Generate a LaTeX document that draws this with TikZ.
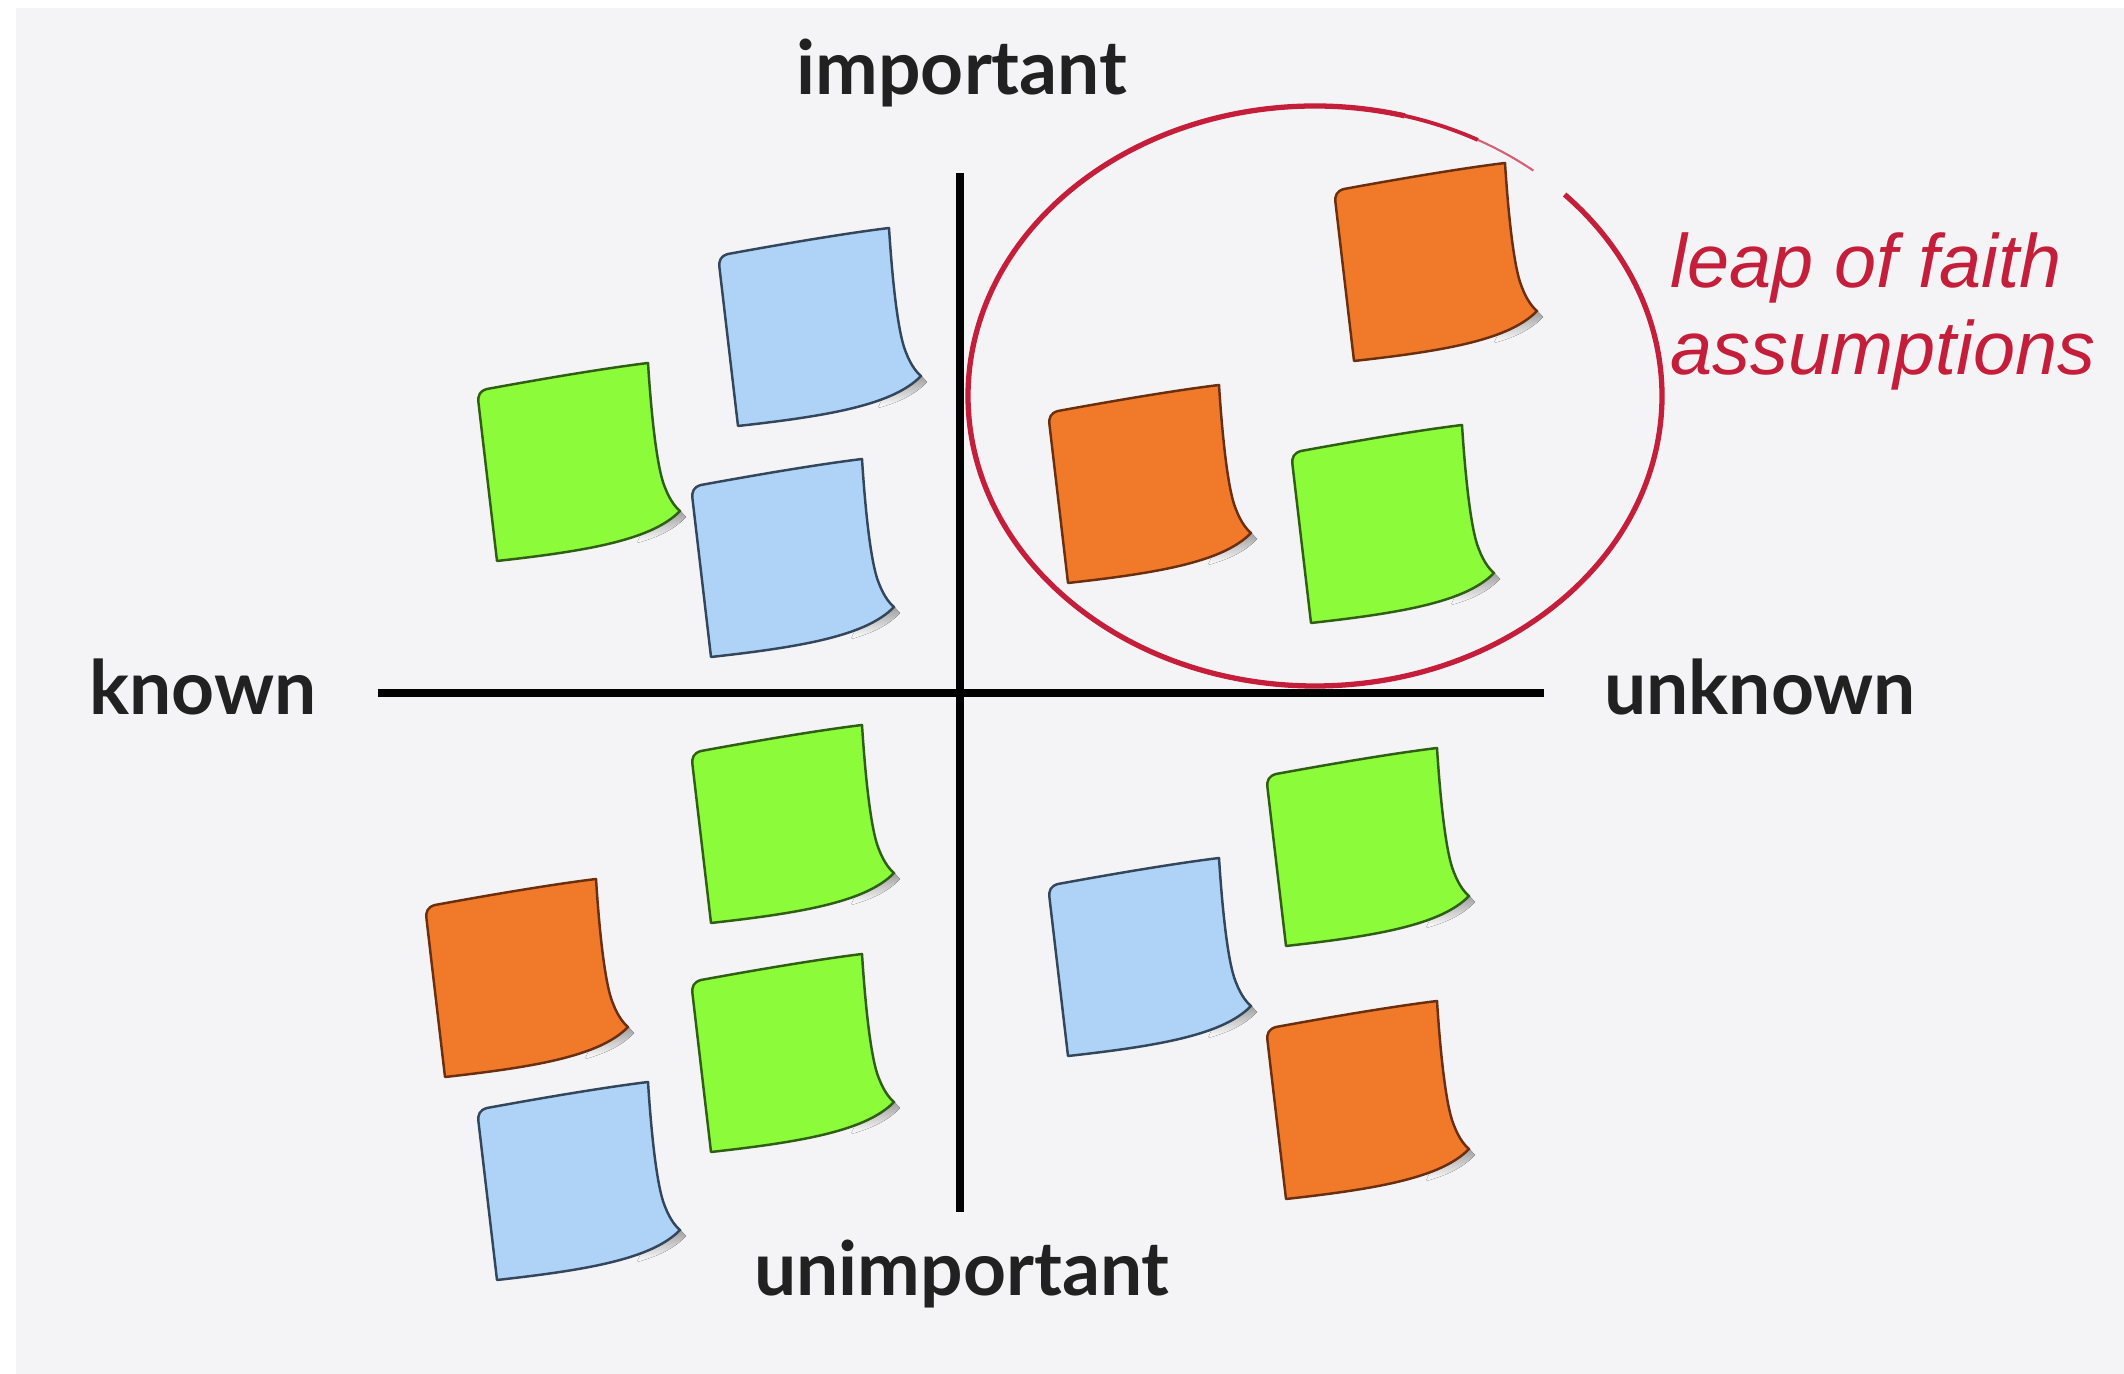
\documentclass[tikz,border=0pt]{standalone}
\usepackage{fontspec}
\newfontfamily\labfont{Lato}
\newfontfamily\leapfont{Liberation Sans}
\definecolor{bg}{HTML}{F4F4F6}
\definecolor{noteG}{HTML}{8BFB3A}
\definecolor{noteGd}{HTML}{2F5E14}
\definecolor{noteB}{HTML}{AFD3F6}
\definecolor{noteBd}{HTML}{34465C}
\definecolor{noteO}{HTML}{F07A2A}
\definecolor{noteOd}{HTML}{6B2E0E}
\definecolor{leapred}{HTML}{C41E3A}
\definecolor{shade}{HTML}{DCDCE1}
\tikzset{
 axisline/.style={line width=2.3pt, black},
 lab/.style={font=\labfont\bfseries\fontsize{21.3}{24}\selectfont, text=black!87, inner sep=0pt, anchor=base},
 leap/.style={font=\leapfont\itshape\fontsize{21.5}{24}\selectfont, text=leapred, inner sep=0pt, anchor=base west},
 ring/.style={draw=leapred, line width=1.5pt},
}
\newcommand\stickynote[3]{%
 \begin{scope}[shift={(#1,#2)}]
 \fill[shade] (180,110) -- (200,117) -- (209,127) .. controls (198,139) and (182,147) .. (160,153) -- cycle;
 \filldraw[fill=#3, draw=#3d, line width=0.7pt, line join=round]
   (10,-1) .. controls (70,-12) and (130,-22) .. (171,-27)
   .. controls (174,20) and (179,70) .. (186,92)
   .. controls (191,107) and (197,116) .. (203,121)
   .. controls (175,150) and (110,161) .. (20,171)
   -- (1.5,13) .. controls (0.5,5) and (3,1) .. (10,-1) -- cycle;
 \end{scope}}
\begin{document}
\begin{tikzpicture}[x=0.01cm, y=-0.01cm]
\useasboundingbox (0,0) rectangle (2124,1374);
\fill[white] (0,0) rectangle (2124,1374);
\fill[bg] (16,8) rectangle (2124,1374);
% axes
\coordinate (hL) at (378,693);
\coordinate (hR) at (1544,693);
\coordinate (vT) at (960,173);
\coordinate (vB) at (960,1212);
\draw[axisline] (hL) -- (hR);
\draw[axisline] (vT) -- (vB);
% sticky notes
\stickynote{718}{255}{noteB}
\stickynote{477}{390}{noteG}
\stickynote{691}{486}{noteB}
\stickynote{1334}{190}{noteO}
\stickynote{1048}{412}{noteO}
\stickynote{1291}{452}{noteG}
\stickynote{691}{752}{noteG}
\stickynote{425}{906}{noteO}
\stickynote{691}{981}{noteG}
\stickynote{477}{1109}{noteB}
\stickynote{1048}{885}{noteB}
\stickynote{1266}{775}{noteG}
\stickynote{1266}{1028}{noteO}
% ring
\coordinate (rc) at (1315,396);
\draw[ring] (rc) ++(-44:347 and 290) arc[start angle=-44, end angle=285, x radius=347, y radius=290];
\draw[ring, line width=1.1pt] (rc) ++(285:347 and 290) arc[start angle=285, end angle=298, x radius=347, y radius=290];
\draw[ring, line width=0.6pt, draw=leapred!70] (rc) ++(298:347 and 290) arc[start angle=298, end angle=309, x radius=347, y radius=290];
% labels
\node[lab] (imp) at (962,95) {important};
\node[lab] (kn) at (203,715) {known};
\node[lab] (unk) at (1760,715) {unknown};
\node[lab] (unimp) at (962,1295) {unimportant};
\node[leap] (leap1) at (1670,288) {leap of faith};
\node[leap] (leap2) at (1670,375) {assumptions};
\end{tikzpicture}
\end{document}
